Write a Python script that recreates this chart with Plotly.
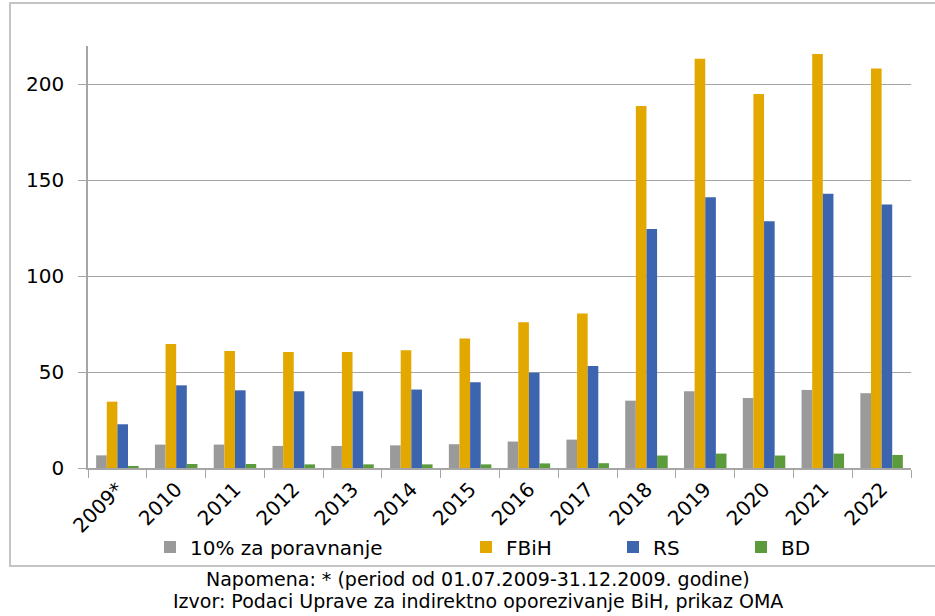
import plotly.graph_objects as go

years = ["2009*", "2010", "2011", "2012", "2013", "2014", "2015", "2016",
         "2017", "2018", "2019", "2020", "2021", "2022"]
poravnanje = [6.6, 12.2, 12.2, 11.5, 11.5, 11.8, 12.4, 13.8, 14.8, 35.1, 40.0, 36.5, 40.7, 39.0]
fbih = [34.6, 64.6, 61.0, 60.5, 60.5, 61.4, 67.5, 76.0, 80.5, 188.7, 213.3, 195.0, 215.8, 208.3]
rs = [22.8, 43.1, 40.5, 40.0, 40.0, 40.9, 44.7, 49.6, 53.2, 124.6, 141.1, 128.6, 143.0, 137.4]
bd = [1.0, 2.1, 2.1, 1.9, 1.9, 1.9, 1.9, 2.4, 2.5, 6.5, 7.5, 6.5, 7.5, 6.8]

names = ["10% za poravnanje", "FBiH", "RS", "BD"]
colors = ["#9a9a9a", "#E3A800", "#3C64AF", "#5C9B3C"]
series = [poravnanje, fbih, rs, bd]
footnote = ["Napomena: * (period od 01.07.2009-31.12.2009. godine)",
            "Izvor: Podaci Uprave za indirektno oporezivanje BiH, prikaz OMA"]

# plot area in pixels (reference coordinates)
L, R, T, B = 88, 911, 46, 468
W, H = 935, 616
pw, ph = R - L, B - T

def px_x(p):
    return (p - L) / pw

def px_y(p):
    return (B - p) / ph

fig = go.Figure()
for i, (n, c, s) in enumerate(zip(names, colors, series)):
    lg = "legend" if i == 0 else f"legend{i+1}"
    fig.add_trace(go.Bar(x=years, y=s, name=n, marker_color=c,
                         marker_line_width=0, legend=lg))

legend_left = [150, 466, 613, 741]
legend_common = dict(orientation="h", yanchor="middle", xanchor="left",
                     bgcolor="rgba(0,0,0,0)",
                     font=dict(family="DejaVu Sans", size=20, color="#000000"))
layout_legends = {}
for i, lx in enumerate(legend_left):
    key = "legend" if i == 0 else f"legend{i+1}"
    layout_legends[key] = dict(x=px_x(lx), y=px_y(547), **legend_common)

fig.update_layout(
    width=W, height=H,
    margin=dict(l=L, r=W - R, t=T, b=H - B, pad=0),
    paper_bgcolor="white", plot_bgcolor="white",
    barmode="group", bargap=0.277, bargroupgap=0,
    showlegend=True,
    font=dict(family="DejaVu Sans", size=20, color="#000000"),
    xaxis=dict(type="category", tickson="boundaries", ticks="outside",
               ticklen=8, tickcolor="#a6a6a6", showline=True,
               linecolor="#a6a6a6", linewidth=1.5, tickangle=-45,
               showgrid=False, automargin=False,
               tickfont=dict(family="DejaVu Sans", size=20)),
    yaxis=dict(range=[0, 220], tickvals=[0, 50, 100, 150, 200],
               ticks="outside", ticklen=8, tickcolor="#a6a6a6",
               showline=True, linecolor="#a6a6a6", linewidth=1.5,
               showgrid=True, gridcolor="#a6a6a6", gridwidth=1.2,
               zeroline=False, ticklabelstandoff=10, automargin=False,
               tickfont=dict(family="DejaVu Sans", size=20)),
    **layout_legends,
)

# outer chart border
fig.add_shape(type="rect", xref="paper", yref="paper",
              x0=px_x(10), x1=px_x(960), y0=px_y(566), y1=px_y(3),
              line=dict(color="#c4c4c4", width=2), fillcolor="rgba(0,0,0,0)",
              layer="below")

for txt, yy in zip(footnote, [579, 601]):
    fig.add_annotation(text=txt, xref="paper", yref="paper",
                       x=px_x(478), y=px_y(yy), xanchor="center",
                       yanchor="middle", showarrow=False,
                       font=dict(family="DejaVu Sans", size=19,
                                 color="#000000"))

fig.write_html("out.html", config={"displayModeBar": False},
               post_script="document.body.style.margin='0';document.body.style.padding='0';")
